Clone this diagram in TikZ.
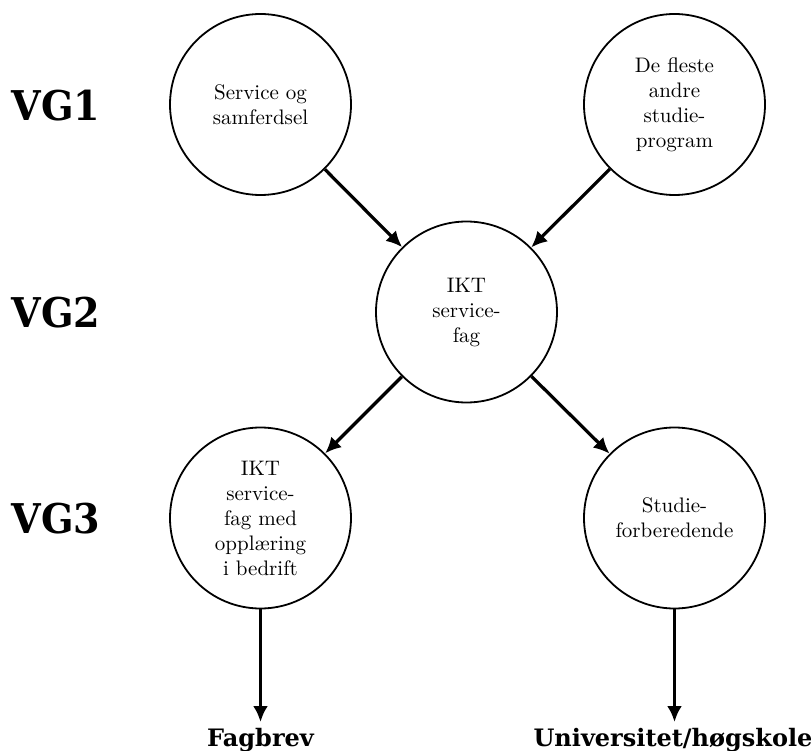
\documentclass[tikz,border=0pt]{standalone}
\usepackage{fontspec}
\newfontfamily\circfont{lmroman10-regular.otf}
\newfontfamily\labfont{DejaVu Serif}[FakeStretch=0.93]
\newfontfamily\goalfont{DejaVu Serif}
\usetikzlibrary{arrows.meta}
\tikzset{
  prog/.style={draw, circle, minimum size=181pt, inner sep=0pt, line width=1.8pt,
    align=center, font=\circfont\fontsize{21}{25}\selectfont},
  level/.style={anchor=base, font=\labfont\bfseries\fontsize{41}{48}\selectfont},
  goal/.style={anchor=base, font=\goalfont\bfseries\fontsize{24}{28}\selectfont},
  flow/.style={line width=3.2pt, -{Latex[length=16pt,width=15pt]}}
}
\begin{document}
\begin{tikzpicture}[x=1pt,y=-1pt]
\useasboundingbox (0,0) rectangle (811,751);
\node[prog] (sos) at (260.5,104.5) {Service og\\samferdsel};
\node[prog] (andre) at (674.5,104.5) {De fleste\\andre\\studie-\\program};
\node[prog] (ikt) at (466.5,312) {IKT\\service-\\fag};
\node[prog] (bedrift) at (260.5,518) {IKT\\service-\\fag med\\oppl\ae ring\\i bedrift};
\node[prog] (studie) at (674.5,518) {Studie-\\forberedende};
\node[level] (vg1) at (56,121) {VG1};
\node[level] (vg2) at (56,327) {VG2};
\node[level] (vg3) at (56,533) {VG3};
\coordinate (fbtip) at (260.5,722);
\coordinate (uhtip) at (674.5,722);
\node[goal] (fagbrev) at (260.5,746) {Fagbrev};
\node[goal] (uh) at (673,746) {Universitet/høgskole};
\draw[flow] (sos) -- (ikt);
\draw[flow] (andre) -- (ikt);
\draw[flow] (ikt) -- (bedrift);
\draw[flow] (ikt) -- (studie);
\draw[flow] (bedrift) -- (fbtip);
\draw[flow] (studie) -- (uhtip);
\end{tikzpicture}
\end{document}
